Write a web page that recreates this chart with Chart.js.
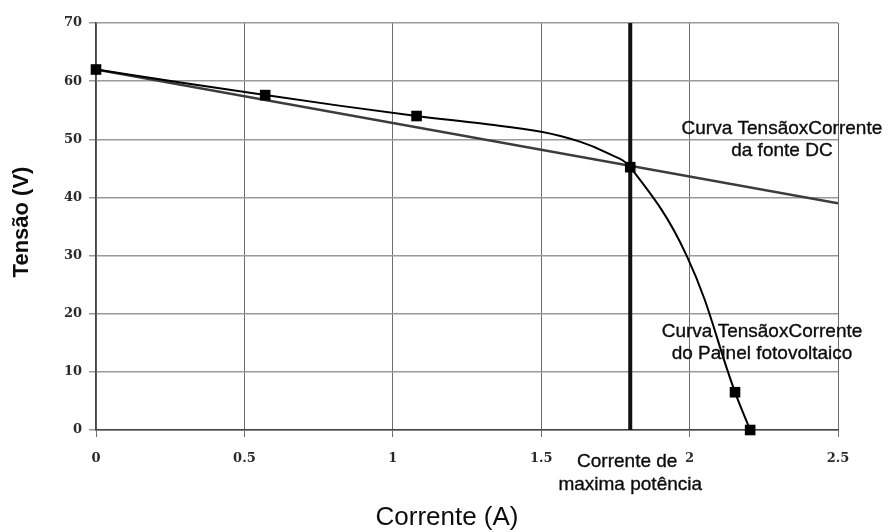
<!DOCTYPE html>
<html>
<head>
<meta charset="utf-8">
<script src="https://cdn.jsdelivr.net/npm/chart.js@4.4.0/dist/chart.umd.min.js"></script>
<style>
  html, body { margin: 0; padding: 0; background: #ffffff; }
  #wrap { width: 890px; height: 532px; position: relative; }
</style>
</head>
<body>
<div id="wrap"><canvas id="chart"></canvas></div>
<script>
// Measured points of the photovoltaic panel (current A, voltage V)
const panelCurrent = [0, 0.57, 1.08, 1.8, 2.153, 2.204];
const panelVoltage = [62, 57.6, 54, 45.2, 6.5, 0];

// Trace of the panel's I-V curve between and through the measured points
const curveCurrent = [0, 0.57, 1.08, 1.3, 1.5, 1.63, 1.72, 1.8, 1.99, 2.153, 2.204];
const curveVoltage = [62, 57.6, 54, 52.7, 51.3, 49.6, 47.7, 45.2, 30, 6.5, 0];

// DC source line (current A, voltage V)
const sourceCurrent = [0, 2.5];
const sourceVoltage = [62, 39];

// Current of maximum power
const maxPowerCurrent = 1.8;
const maxPowerSpan = [0, 70];

// Axis ticks
const xTicks = [0, 0.5, 1, 1.5, 2, 2.5];
const xTickLabels = ['0', '0.5', '1', '1.5', '2', '2.5'];
const yTicks = [0, 10, 20, 30, 40, 50, 60, 70];

const pairs = (xs, ys) => xs.map((x, i) => ({ x: x, y: ys[i] }));

// Free text: axis titles and curve labels
const textPlugin = {
  id: 'chartText',
  afterDraw(chart) {
    const ctx = chart.ctx;
    const xs = chart.scales.x, ys = chart.scales.y;
    const area = chart.chartArea;
    ctx.save();
    ctx.fillStyle = '#0d0d0d';
    ctx.strokeStyle = '#0d0d0d';
    ctx.lineWidth = 0.35;
    ctx.textAlign = 'center';
    ctx.textBaseline = 'middle';
    const put = (s, x, y) => { ctx.fillText(s, x, y); ctx.strokeText(s, x, y); };

    // annotations
    ctx.font = '19px "Liberation Sans", Arial, sans-serif';
    const dcX = xs.getPixelForValue(2.311), dcY = ys.getPixelForValue(51.8);
    put('Curva TensãoxCorrente', dcX, dcY);
    put('da fonte DC', dcX, dcY + 22);

    const pvX = xs.getPixelForValue(2.244), pvY = ys.getPixelForValue(16.9);
    put('Curva TensãoxCorrente', pvX, pvY);
    put('do Painel fotovoltaico', pvX, pvY + 22);

    const mpX = xs.getPixelForValue(maxPowerCurrent);
    put('Corrente de', mpX - 3, area.bottom + 32);
    put('maxima potência', mpX, area.bottom + 55);

    // axis titles
    ctx.font = '26px "Liberation Sans", Arial, sans-serif';
    ctx.fillText('Corrente (A)', 447, 518);

    ctx.font = 'bold 22px "Liberation Sans", Arial, sans-serif';
    ctx.translate(22, 222);
    ctx.rotate(-Math.PI / 2);
    ctx.fillText('Tensão (V)', 0, 0);
    ctx.restore();
  }
};

const tickFont = { family: '"DejaVu Serif", serif', size: 13, weight: 'bold' };

new Chart(document.getElementById('chart'), {
  type: 'scatter',
  data: {
    datasets: [
      {
        label: 'Pontos medidos',
        data: pairs(panelCurrent, panelVoltage),
        showLine: false,
        clip: false,
        pointStyle: 'rect',
        pointRadius: 7.5,
        pointBackgroundColor: '#000000',
        pointBorderColor: '#000000',
        pointBorderWidth: 0
      },
      {
        label: 'Painel fotovoltaico',
        data: pairs(curveCurrent, curveVoltage),
        showLine: true,
        clip: false,
        borderColor: '#000000',
        borderWidth: 2,
        pointRadius: 0,
        tension: 0.4
      },
      {
        label: 'Fonte DC',
        data: pairs(sourceCurrent, sourceVoltage),
        showLine: true,
        borderColor: '#3c3c3c',
        borderWidth: 2.5,
        pointRadius: 0
      },
      {
        label: 'Corrente de máxima potência',
        data: maxPowerSpan.map(v => ({ x: maxPowerCurrent, y: v })),
        showLine: true,
        borderColor: '#111111',
        borderWidth: 4,
        pointRadius: 0
      }
    ]
  },
  options: {
    responsive: true,
    maintainAspectRatio: false,
    animation: false,
    layout: { padding: { left: 0, right: 52, top: 23, bottom: 0 } },
    plugins: {
      legend: { display: false },
      tooltip: { enabled: false }
    },
    scales: {
      x: {
        type: 'linear',
        min: 0,
        max: 2.5,
        afterFit(scale) { scale.height = 102; },
        afterBuildTicks(scale) { scale.ticks = xTicks.map(v => ({ value: v })); },
        ticks: {
          font: tickFont,
          color: '#2a2a2a',
          padding: 14,
          maxRotation: 0,
          callback: (v) => xTickLabels[xTicks.indexOf(v)]
        },
        grid: { color: '#6e6e6e', lineWidth: 1, tickLength: 7 },
        border: { color: '#444444', width: 1.5 }
      },
      y: {
        type: 'linear',
        min: 0,
        max: 70,
        afterFit(scale) { scale.width = 96; },
        afterBuildTicks(scale) { scale.ticks = yTicks.map(v => ({ value: v })); },
        ticks: {
          font: tickFont,
          color: '#2a2a2a',
          padding: 7
        },
        grid: { color: '#9a9a9a', lineWidth: 1.5, tickLength: 7 },
        border: { color: '#444444', width: 1.5 }
      }
    }
  },
  plugins: [textPlugin]
});
</script>
</body>
</html>
